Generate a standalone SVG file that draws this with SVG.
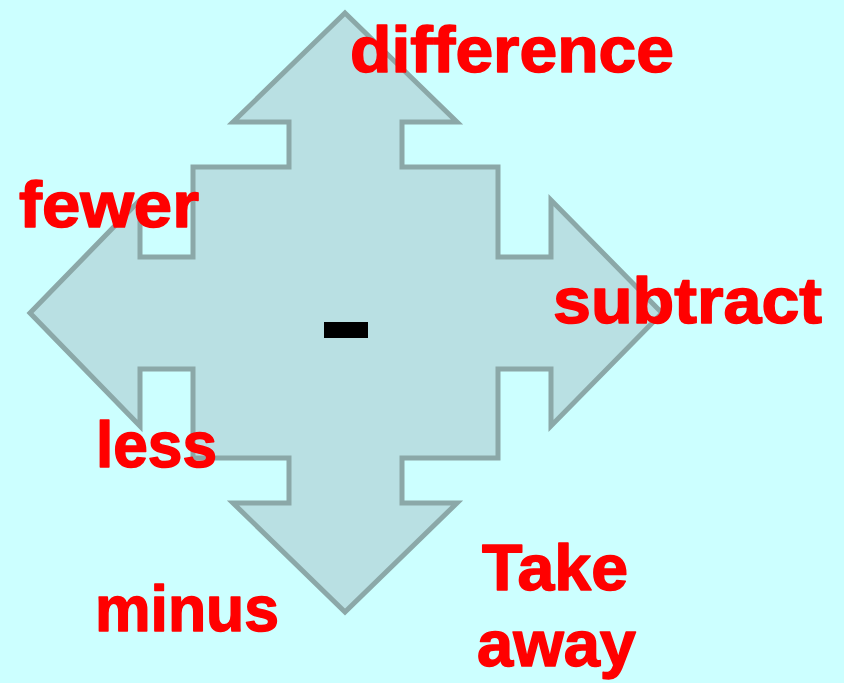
<svg xmlns="http://www.w3.org/2000/svg" width="844" height="683" viewBox="0 0 844 683">
<style>
.lbl{font-family:"Liberation Sans",Arial,sans-serif;font-weight:bold;font-size:64px;fill:#FF0000;stroke:#FF0000;stroke-width:1.5px;stroke-linejoin:round}
.arrow{fill:#B9E0E3;stroke:#8BA8A8;stroke-width:5;stroke-linejoin:miter}
</style>
<rect x="0" y="0" width="844" height="683" fill="#CCFFFF"/>
<g id="arrow">
<polygon class="arrow" points="345,13 457,122 402,122 402,167 498,167 498,257 551,257 551,200 662,313 551,426 551,369 498,369 498,458 402,458 402,503 457,503 345,612 233,503 289,503 289,458 193,458 193,369 140,369 140,426 30,313 140,200 140,257 193,257 193,167 289,167 289,122 233,122"/>
</g>
<g id="minus-sign">
<rect x="324" y="322" width="44" height="16" fill="#000000"/>
</g>
<g id="labels">
<text id="difference" class="lbl" x="350" y="72" textLength="324" lengthAdjust="spacingAndGlyphs">difference</text>
<text id="fewer" class="lbl" x="19" y="227" textLength="180" lengthAdjust="spacingAndGlyphs">fewer</text>
<text id="subtract" class="lbl" x="553" y="323" textLength="269" lengthAdjust="spacingAndGlyphs">subtract</text>
<text id="less" class="lbl" x="96" y="467" textLength="121" lengthAdjust="spacingAndGlyphs">less</text>
<text id="minus" class="lbl" x="95" y="631" textLength="184" lengthAdjust="spacingAndGlyphs">minus</text>
<text id="take" class="lbl" x="482" y="590" textLength="146" lengthAdjust="spacingAndGlyphs">Take</text>
<text id="away" class="lbl" x="477" y="666" textLength="159" lengthAdjust="spacingAndGlyphs">away</text>
</g>
</svg>
